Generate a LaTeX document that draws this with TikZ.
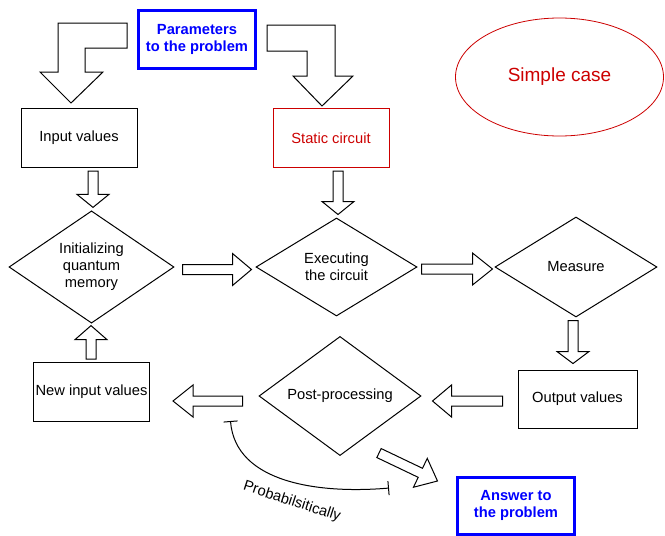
\documentclass[tikz,border=0pt]{standalone}
\usepackage{fontspec}
\setmainfont{Liberation Sans}
\usetikzlibrary{shapes.geometric,arrows.meta,calc}
\definecolor{paramblue}{RGB}{0,0,255}
\definecolor{staticred}{RGB}{204,0,0}

% hollow block arrow: [head length]{tail}{tip}
\newcommand{\blockarrow}[3][13]{%
  \coordinate (ba-t) at (#2);
  \coordinate (ba-h) at (#3);
  \coordinate (ba-b) at ($(ba-h)!#1pt!(ba-t)$);
  \draw[blockarr] ($(ba-t)!5pt!90:(ba-h)$) -- ($(ba-b)!5pt!-90:(ba-t)$)
    -- ($(ba-b)!16pt!-90:(ba-t)$) -- (ba-h) -- ($(ba-b)!16pt!90:(ba-t)$)
    -- ($(ba-b)!5pt!90:(ba-t)$) -- ($(ba-t)!5pt!-90:(ba-h)$) -- cycle;}

\begin{document}
\begin{tikzpicture}[x=1pt, y=-1pt,
    font=\fontsize{14.7}{17}\selectfont,
    box/.style={draw, line width=1pt, minimum width=116pt, minimum height=59pt, inner sep=0pt, align=center},
    decision/.style={diamond, draw, line width=1pt, inner sep=0pt, align=center},
    goal/.style={draw=paramblue, line width=3pt, text=paramblue, font=\fontsize{14.7}{17}\selectfont\bfseries,
      minimum width=117pt, minimum height=58pt, inner sep=0pt, align=center},
    blockarr/.style={draw, line width=1pt, fill=white, line join=miter},
    probline/.style={line width=1pt, {Bar[width=14pt]}-{Bar[width=14pt]}}]
    \useasboundingbox (0,0) rectangle (665,536);

    % Inputs
    \node[goal] (params) at (197,39) {Parameters\\to the problem};
    \node[box] (input) at (79,138) {Input values};
    \node[box, draw=staticred, text=staticred] (static) at (331,138) {Static circuit};
    \node[ellipse, draw=staticred, line width=0.8pt, minimum width=208pt, minimum height=118pt,
      text=staticred, font=\fontsize{19}{22}\selectfont] (simple) at (559.5,77) {Simple case};

    % Main loop
    \node[decision, minimum width=165pt, minimum height=98pt] (init) at (91.5,267) {Initializing\\quantum\\memory};
    \node[decision, minimum width=161pt, minimum height=98pt] (exec) at (336.5,267) {Executing\\the circuit};
    \node[decision, minimum width=162pt, minimum height=100pt] (measure) at (576,267) {Measure};
    \node[box] (newinput) at (91.5,391.5) {New input values};
    \node[decision, minimum width=162pt, minimum height=100pt] (post) at (340,396) {Post-processing};
    \node[box, minimum width=119pt, minimum height=58pt] (output) at (577.5,399) {Output values};

    % Result
    \node[goal, minimum height=57pt] (answer) at (516,505.5) {Answer to\\the problem};

    % Bent arrows from the parameters
    \draw[blockarr] (127,23) -- (58,23) -- (58,72) -- (40,72) -- (71,103) -- (103,72)
      -- (85,72) -- (85,48) -- (127,48) -- cycle;
    \draw[blockarr] (267,25) -- (335,25) -- (335,76) -- (353,76) -- (322,106) -- (293,76)
      -- (307,76) -- (307,51) -- (267,51) -- cycle;

    % Straight arrows
    \blockarrow{$(input.south)+(14,3)$}{$(init.north)+(1.5,-3)$}
    \blockarrow{$(static.south)+(7,3)$}{$(exec.north)+(1.5,-3)$}
    \blockarrow[19]{$(init.east)+(8,2.5)$}{$(exec.west)+(-4,2.5)$}
    \blockarrow[20]{$(exec.east)+(4,2)$}{$(measure.west)+(-2,2)$}
    \blockarrow[12]{$(measure.south)+(-3,3)$}{$(output.north)+(-4.5,-6)$}
    \blockarrow[19]{$(output.west)+(-15,2)$}{$(post.east)+(11,5)$}
    \blockarrow[20]{$(post.west)+(-16,5)$}{$(newinput.east)+(23,9.5)$}
    \blockarrow[14]{$(newinput.north)+(-0.5,-2.5)$}{$(init.south)+(-0.5,2)$}
    \blockarrow[19]{$(post.south)+(39,-3)$}{$(answer.north west)+(-18.5,5.5)$}

    % Probabilistic branch
    \draw[probline] ($(post.west)+(-28,25)$) .. controls +(5,62) and +(-70,6) .. ($(post.south)+(49,32)$);
    \node[rotate=-18] (prob) at (292,502) {Probabilsitically};
\end{tikzpicture}
\end{document}
